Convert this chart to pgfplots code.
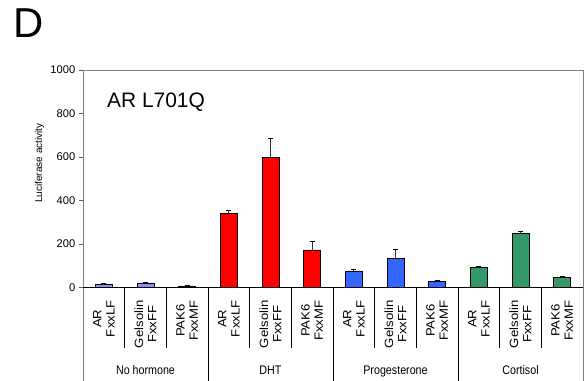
\documentclass[border=0pt]{standalone}
\usepackage{pgfplots}
\pgfplotsset{compat=1.18}
\usepackage{fontspec}
\setmainfont{Liberation Sans}
\newfontfamily\labfam[FakeStretch=1.1]{Liberation Sans}
\newfontfamily\grpfam[FakeStretch=0.86]{Liberation Sans}
\definecolor{nohc}{HTML}{8F8FF0}
\definecolor{dhtc}{HTML}{FF0000}
\definecolor{proc}{HTML}{3366FF}
\definecolor{corc}{HTML}{339966}
\definecolor{axgray}{HTML}{808080}
\begin{document}
\begin{tikzpicture}
\begin{axis}[
  at={(83bp,93.7bp)}, anchor=south west,
  scale only axis, width=500bp, height=217.3bp,
  xmin=0, xmax=12, ymin=0, ymax=1000,
  xtick=\empty,
  ytick={0,200,400,600,800,1000},
  ytick pos=left,
  tick align=outside, major tick length=4bp,
  ytick style={axgray!70!black, line width=0.6bp},
  yticklabel style={font=\fontsize{11.2}{13}\selectfont, inner sep=0pt, anchor=east, xshift=-3.5bp},
  /pgf/number format/assume math mode=true,
  /pgf/number format/1000 sep={},
  axis line style={draw=none},
  clip=false,
  error bars/y dir=plus, error bars/y explicit,
  error bars/error mark options={rotate=90, mark size=2.5bp, black, line width=0.8bp},
  error bars/error bar style={black!80, line width=0.8bp},
]
\addplot[ybar, bar shift=0pt, bar width=16.7bp, fill=nohc, draw=black, line width=0.7bp]
  coordinates {(0.5,12) +- (0,4) (1.5,20) +- (0,4) (2.5,6) +- (0,3)};
\addplot[ybar, bar shift=0pt, bar width=16.7bp, fill=dhtc, draw=black, line width=0.7bp]
  coordinates {(3.5,340) +- (0,16) (4.5,598) +- (0,86) (5.5,172) +- (0,40)};
\addplot[ybar, bar shift=0pt, bar width=16.7bp, fill=proc, draw=black, line width=0.7bp]
  coordinates {(6.5,73) +- (0,8) (7.5,134) +- (0,41) (8.5,26) +- (0,8)};
\addplot[ybar, bar shift=0pt, bar width=16.7bp, fill=corc, draw=black, line width=0.7bp]
  coordinates {(9.5,91) +- (0,4) (10.5,247) +- (0,11) (11.5,46) +- (0,3)};
\end{axis}
% frame
\draw[axgray, line width=0.8bp] (83bp,311bp) -- (583bp,311bp);
\draw[axgray, line width=0.9bp] (83bp,311bp) -- (83bp,0bp);
\draw[axgray, line width=0.9bp] (583bp,311bp) -- (583bp,0bp);
\draw[black, line width=0.8bp] (83bp,93.7bp) -- (583bp,93.7bp);
\foreach \s in {1,2,4,5,7,8,10,11}{
  \pgfmathsetmacro\xx{83+\s*500/12}
  \draw[black, line width=0.7bp] (\xx bp,93.7bp) -- (\xx bp,32.7bp);
}
\foreach \s in {3,6,9}{
  \pgfmathsetmacro\xx{83+\s*500/12}
  \draw[black, line width=0.7bp] (\xx bp,93.7bp) -- (\xx bp,0bp);
}
% category labels
\foreach \c/\t in {0.5/{AR\\FxxLF},1.5/{Gelsolin\\FxxFF},2.5/{PAK6\\FxxMF},
                   3.5/{AR\\FxxLF},4.5/{Gelsolin\\FxxFF},5.5/{PAK6\\FxxMF},
                   6.5/{AR\\FxxLF},7.5/{Gelsolin\\FxxFF},8.5/{PAK6\\FxxMF},
                   9.5/{AR\\FxxLF},10.5/{Gelsolin\\FxxFF},11.5/{PAK6\\FxxMF}}{
  \pgfmathsetmacro\xx{83+\c*500/12}
  \node[rotate=90, anchor=east, align=center, inner sep=0pt,
        font=\fontsize{12}{13.3}\selectfont\labfam]
        at (\xx bp,80.7bp) {\t};
}
\foreach \c/\t in {1.5/No hormone,4.5/DHT,7.5/Progesterone,10.5/Cortisol}{
  \pgfmathsetmacro\xx{83+\c*500/12}
  \node[anchor=base, inner sep=0pt, font=\fontsize{12.5}{14}\selectfont\grpfam]
        at (\xx bp,7bp) {\t};
}
\node[anchor=base west, inner sep=0pt, font=\fontsize{42}{46}\selectfont] at (13.7bp,343bp) {D};
\node[anchor=base west, inner sep=0pt, font=\fontsize{21}{24}\selectfont] at (107bp,273.7bp) {AR L701Q};
\node[rotate=90, anchor=base, inner sep=0pt, font=\fontsize{10}{12}\selectfont] at (42bp,218bp) {Luciferase activity};
\pgfresetboundingbox
\path[use as bounding box] (0,0) rectangle (584bp,381bp);
\end{tikzpicture}
\end{document}
